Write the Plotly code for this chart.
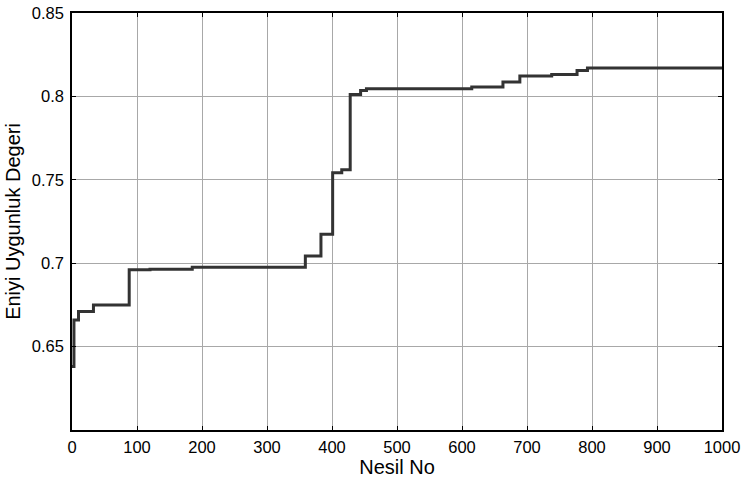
import plotly.graph_objects as go

# Generation where the best fitness changes, and the value from there on
generations = [0, 3, 10, 33, 88, 120, 185, 359, 383, 401, 415, 428, 444, 453,
               615, 663, 689, 738, 777, 793, 1000]
best_fitness = [0.638, 0.666, 0.671, 0.675, 0.696, 0.6964, 0.6976, 0.7043,
                0.7173, 0.7543, 0.756, 0.8012, 0.8036, 0.8046, 0.8056, 0.8086,
                0.8122, 0.8132, 0.8156, 0.817, 0.817]

x_ticks = [0, 100, 200, 300, 400, 500, 600, 700, 800, 900, 1000]
y_ticks = [0.65, 0.7, 0.75, 0.8, 0.85]
y_tick_labels = ["0.65", "0.7", "0.75", "0.8", "0.85"]

fig = go.Figure()
fig.add_trace(go.Scatter(
    x=generations, y=best_fitness, mode="lines", line_shape="hv",
    line=dict(color="#333333", width=3), showlegend=False,
))

font_family = "Liberation Sans, Arial, sans-serif"
axis_common = dict(
    showline=True, linecolor="black", linewidth=1.5, mirror="ticks",
    ticks="inside", ticklen=4, tickcolor="black", tickwidth=1,
    showgrid=True, gridcolor="#a8a8a8", gridwidth=1, zeroline=False,
    tickfont=dict(family=font_family, size=16.5, color="black"),
    ticklabeloverflow="allow",
    automargin=False,
)

fig.update_layout(
    width=743, height=478,
    margin=dict(l=72, r=21, t=13, b=48),
    paper_bgcolor="white", plot_bgcolor="white",
    xaxis=dict(range=[0, 1000], tickvals=x_ticks, ticklabelstandoff=1,
               title=dict(text="Nesil No", standoff=0,
                          font=dict(family=font_family, size=20, color="black")),
               **axis_common),
    yaxis=dict(range=[0.6, 0.85], tickvals=y_ticks, ticktext=y_tick_labels,
               ticklabelstandoff=3,
               title=dict(text="Eniyi Uygunluk Degeri", standoff=6,
                          font=dict(family=font_family, size=20, color="black")),
               **axis_common),
)

# Remove the browser's default page margin so the figure fills the window.
fig.write_html("out.html", config={"displayModeBar": False},
               post_script="document.body.style.margin = '0';")
